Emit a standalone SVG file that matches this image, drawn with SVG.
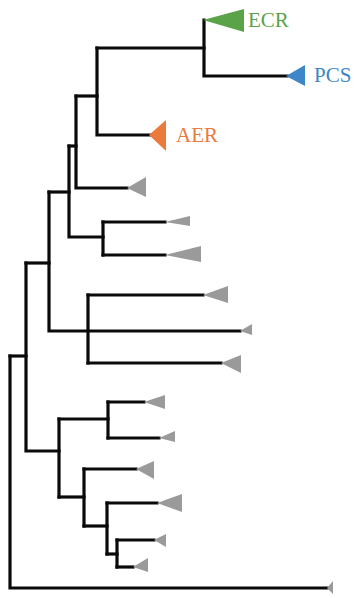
<svg xmlns="http://www.w3.org/2000/svg" width="354" height="598" viewBox="0 0 354 598">
  <style>
    .br { fill: none; stroke: #0a0a0a; stroke-width: 3.2; stroke-linecap: square; stroke-linejoin: miter; }
    .clade { fill: #9a9a9a; }
    .lbl { font-family: "Liberation Serif", "Times New Roman", serif; font-size: 21px; }
  </style>
  <rect width="354" height="598" fill="#fff"/>

  <!-- tree branches (rectangular cladogram) -->
  <g id="connectors">
    <path class="br" d="M204,20 V76 H287"/>
    <path class="br" d="M97,48 H204"/>
    <path class="br" d="M97,48 V135 H150"/>
    <path class="br" d="M76,96 H97"/>
    <path class="br" d="M76,96 V188 H127"/>
    <path class="br" d="M69,146 H76"/>
    <path class="br" d="M69,146 V237 H103"/>
    <path class="br" d="M103,222 V255"/>
    <path class="br" d="M103,222 H165"/>
    <path class="br" d="M103,255 H165"/>
    <path class="br" d="M49,192 H69"/>
    <path class="br" d="M49,192 V331 H240"/>
    <path class="br" d="M88,295 V363"/>
    <path class="br" d="M88,295 H203"/>
    <path class="br" d="M88,363 H221"/>
    <path class="br" d="M26,263 H49"/>
    <path class="br" d="M26,263 V451 H59"/>
    <path class="br" d="M10,356 H26"/>
    <path class="br" d="M10,356 V588 H327"/>
    <path class="br" d="M59,419 V497"/>
    <path class="br" d="M59,419 H108"/>
    <path class="br" d="M108,402 V438"/>
    <path class="br" d="M108,402 H144"/>
    <path class="br" d="M108,438 H159"/>
    <path class="br" d="M59,497 H84"/>
    <path class="br" d="M84,469 V526"/>
    <path class="br" d="M84,469 H136"/>
    <path class="br" d="M84,526 H107"/>
    <path class="br" d="M107,503 V554"/>
    <path class="br" d="M107,503 H157"/>
    <path class="br" d="M107,554 H117"/>
    <path class="br" d="M117,540 V567"/>
    <path class="br" d="M117,540 H154"/>
    <path class="br" d="M117,567 H133"/>
  </g>

  <!-- collapsed clades -->
  <g id="ecr">
    <polygon points="203,20 244,9 244,32" fill="#5aa349"/>
    <text class="lbl" x="248" y="27" fill="#5aa349">ECR</text>
  </g>
  <g id="pcs">
    <polygon points="286,76 305,65 305,86" fill="#3d86c8"/>
    <text class="lbl" x="314" y="82" fill="#3d86c8">PCS</text>
  </g>
  <g id="aer">
    <polygon points="149,135 166,120 166,151" fill="#eb7a3c"/>
    <text class="lbl" x="176" y="142" fill="#eb7a3c">AER</text>
  </g>
  <g id="c1"><polygon class="clade" points="127,188 146,177 146,197"/></g>
  <g id="c2"><polygon class="clade" points="165,222 190,216 190,226"/></g>
  <g id="c3"><polygon class="clade" points="165,255 201,246 201,262"/></g>
  <g id="c4"><polygon class="clade" points="203,295 228,286 228,303"/></g>
  <g id="c5"><polygon class="clade" points="240,331 252,324 252,335"/></g>
  <g id="c6"><polygon class="clade" points="221,363 241,355 241,373"/></g>
  <g id="c7"><polygon class="clade" points="144,402 165,395 165,409"/></g>
  <g id="c8"><polygon class="clade" points="159,438 175,431 175,442"/></g>
  <g id="c9"><polygon class="clade" points="136,469 154,461 154,479"/></g>
  <g id="c10"><polygon class="clade" points="157,503 182,494 182,512"/></g>
  <g id="c11"><polygon class="clade" points="154,540 166,534 166,547"/></g>
  <g id="c12"><polygon class="clade" points="133,567 148,558 148,572"/></g>
  <g id="c13"><polygon class="clade" points="327,588 333,581 333,594"/></g>
</svg>
